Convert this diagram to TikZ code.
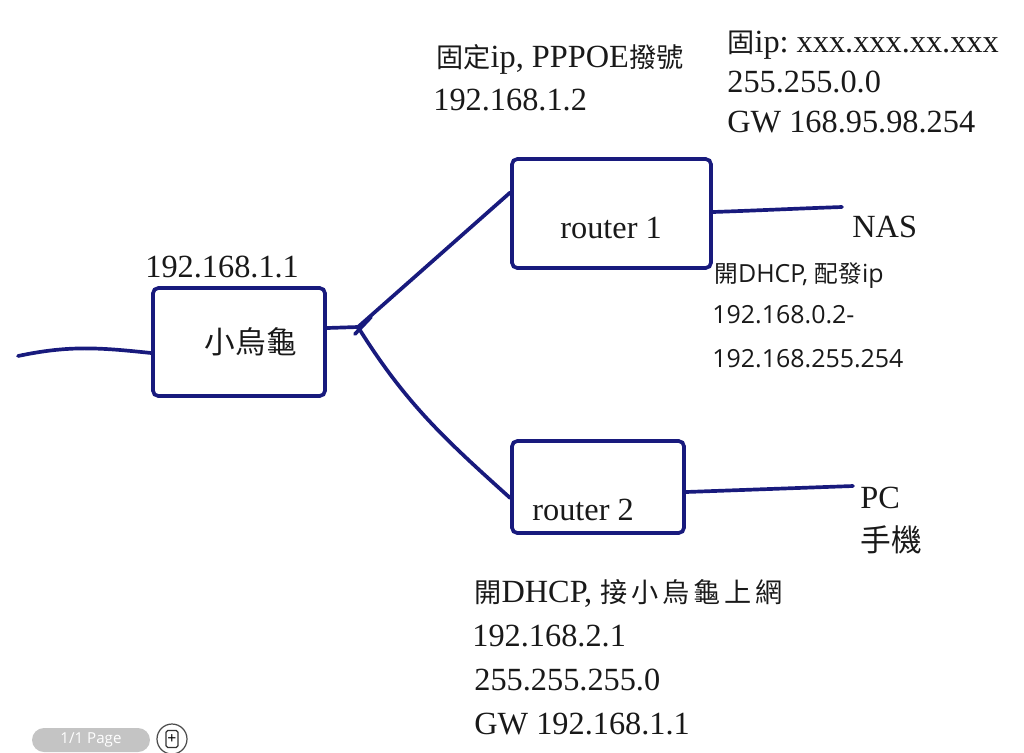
\documentclass[tikz,border=0pt]{standalone}
\usepackage{fontspec}
\usepackage{xcolor}
\usepackage{tikz}
\setmainfont{Liberation Serif}
\newfontfamily\uisans{Open Sans}
\newfontfamily\cjk[Scale=0.84]{Noto Sans CJK TC}
\newfontfamily\cjkui[Scale=0.95]{Noto Sans CJK TC}
\newfontfamily\cjkwide[Scale=0.84,LetterSpace=14]{Noto Sans CJK TC}
\definecolor{pen}{RGB}{24,26,125}
\definecolor{pillgray}{RGB}{196,196,196}
\frenchspacing

\begin{document}
\begin{tikzpicture}[x=0.02cm,y=-0.02cm,
  box/.style={draw=pen,line width=2.1pt,rounded corners=3pt,inner sep=0pt},
  wire/.style={draw=pen,line width=2.1pt,line cap=round},
  tx/.style={font=\fontsize{18.4}{21}\selectfont,text=black!90,inner sep=0pt,anchor=base west},
  ui/.style={font=\uisans\fontsize{14.2}{17}\selectfont,text=black!90,inner sep=0pt,anchor=base west},
  big/.style={font=\cjk\fontsize{20.8}{24}\selectfont,text=black!90,inner sep=0pt}
]
\useasboundingbox (0,0) rectangle (1024,752);

% devices
\node[box,minimum width=3.44cm,minimum height=2.16cm] (turtle)  at (239,342)     {};
\node[box,minimum width=3.98cm,minimum height=2.18cm] (router1) at (611.5,213.5) {};
\node[box,minimum width=3.44cm,minimum height=1.84cm] (router2) at (598,487)     {};
\node[big] (turtlelbl) at (251,342) {小烏龜};
\node[tx]  (r1lbl)     at (560,238) {router 1};
\node[tx]  (r2lbl)     at (532,520) {router 2};

% ends of the cables
\coordinate (wan)    at (18,356);
\coordinate (fork)   at (358,327);
\coordinate (nasend) at (842,207);
\coordinate (pcend)  at (853,486);

\draw[wire] (wan) to[out=12,in=174] ([yshift=-0.22cm]turtle.west);
\draw[wire] ([yshift=0.28cm]turtle.east) -- (fork);
\draw[wire] (fork) -- ([yshift=0.42cm]router1.west);
\draw[wire] (fork) to[out=-58,in=138] ([yshift=-0.22cm]router2.west);
\draw[wire] ([shift={(-3,7)}]fork) -- ([shift={(13,-10)}]fork);
\draw[wire] ([yshift=0.03cm]router1.east) to[out=2,in=182] (nasend);
\draw[wire] ([yshift=-0.1cm]router2.east) -- (pcend);

% turtle
\node[tx] (turtleip) at (145,277) {192.168.1.1};

% router 1, wan side
\node[tx] (r1wan1) at (436,67)  {{\cjk 固定}ip, PPPOE{\cjk 撥號}};
\node[tx] (r1wan2) at (433,110) {192.168.1.2};
\node[tx] (isp1)   at (727,52)  {{\cjk 固}ip: xxx.xxx.xx.xxx};
\node[tx] (isp2)   at (727,92)  {255.255.0.0};
\node[tx] (isp3)   at (727,132) {GW 168.95.98.254};

% router 1, lan side
\node[tx] (nas)    at (852,237) {NAS};
\node[ui] (dhcp1)  at (714,282) {{\cjkui 開}DHCP, {\cjkui 配發}ip};
\node[ui] (dhcp2)  at (712,323) {192.168.0.2-};
\node[ui] (dhcp3)  at (712,367) {192.168.255.254};

% router 2
\node[tx]  (pc)    at (860,508) {PC};
\node[big] (phone) at (891,540) {手機};
\node[tx] (r2set1) at (474,602) {{\cjk 開}DHCP, {\cjkwide 接小烏龜上網}};
\node[tx] (r2set2) at (472,646) {192.168.2.1};
\node[tx] (r2set3) at (474,690) {255.255.255.0};
\node[tx] (r2set4) at (474,734) {GW 192.168.1.1};

% page counter
\node[fill=pillgray,rounded corners=0.24cm,minimum width=2.36cm,minimum height=0.48cm,inner sep=0pt,
      text=white,font=\uisans\fontsize{8.6}{10}\selectfont] (pager) at (91,740) {1/1 Page};
\node[circle,draw=black!70,line width=0.7pt,minimum size=0.6cm,inner sep=0pt] (addpage) at (172,739) {};
\node[draw=black!80,rounded corners=1pt,line width=0.7pt,minimum width=0.24cm,minimum height=0.34cm,
      inner sep=0pt,font=\bfseries\fontsize{9}{9}\selectfont] (pageicon) at (addpage.center) {+};
\end{tikzpicture}
\end{document}
